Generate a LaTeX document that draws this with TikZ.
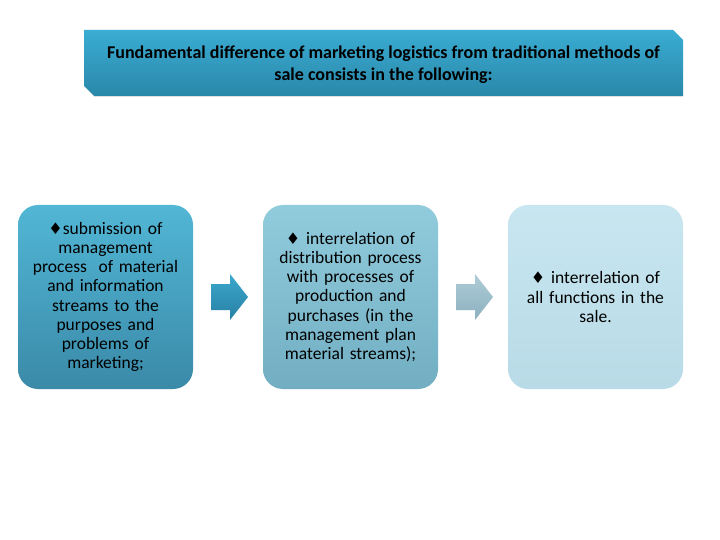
\documentclass[tikz,border=0pt]{standalone}
\usepackage{fontspec}
\setmainfont{Carlito}
\newfontfamily\symb{DejaVu Sans}
\definecolor{titelOben}{RGB}{58,172,210}
\definecolor{titelUnten}{RGB}{42,136,170}
\definecolor{einsOben}{RGB}{82,182,213}
\definecolor{einsUnten}{RGB}{58,138,168}
\definecolor{zweiOben}{RGB}{145,204,221}
\definecolor{zweiUnten}{RGB}{114,174,194}
\definecolor{dreiOben}{RGB}{200,230,240}
\definecolor{dreiUnten}{RGB}{184,219,231}
\definecolor{pfeilAOben}{RGB}{58,168,204}
\definecolor{pfeilAUnten}{RGB}{40,128,164}
\definecolor{pfeilBOben}{RGB}{174,204,215}
\definecolor{pfeilBUnten}{RGB}{140,176,192}
\newcommand{\raute}{{\symb\fontsize{16}{16}\selectfont ♦}}
\tikzset{
  kasten/.style={rounded corners=20pt, minimum width=175pt, minimum height=184pt,
    text width=170pt, align=center, inner sep=0pt,
    font=\fontsize{17.5}{19.2}\selectfont}
}
\begin{document}
\begin{tikzpicture}[x=1pt,y=-1pt]
    \useasboundingbox[fill=white] (0,0) rectangle (720,540);

    % Punkte Titel
    \coordinate (T1) at (84,30);
    \coordinate (T2) at (673,30);
    \coordinate (T3) at (683,40);
    \coordinate (T4) at (683,96);
    \coordinate (T5) at (94,96);
    \coordinate (T6) at (84,86);

    % Titel
    \draw[line width=1.5pt, black!12] (T5) -- (T4);
    \shade[top color=titelOben, bottom color=titelUnten] (T1) -- (T2) -- (T3) -- (T4) -- (T5) -- (T6) -- cycle;
    \node[font=\bfseries\fontsize{18}{22}\selectfont, align=center] (titel) at (383.5,65)
        {Fundamental difference of marketing logistics from traditional methods of\\ sale consists in the following:};

    % Kaesten
    \node[kasten, top color=einsOben, bottom color=einsUnten] (k1) at (105.5,297)
        {\raute submission of\\ management\\ process \ of material\\ and information\\ streams to the\\ purposes and\\ problems of\\ marketing;};
    \node[kasten, top color=zweiOben, bottom color=zweiUnten] (k2) at (350.5,297)
        {\raute\ interrelation of\\ distribution process\\ with processes of\\ production and\\ purchases (in the\\ management plan\\ material streams);};
    \node[kasten, top color=dreiOben, bottom color=dreiUnten] (k3) at (595.5,297)
        {\raute\ interrelation of\\ all functions in the\\ sale.};

    % Pfeile
    \foreach \x/\farbe in {211/pfeilA, 456/pfeilB}
    {
        \shade[top color=\farbe Oben, bottom color=\farbe Unten]
            (\x,284) -- (\x+19,284) -- (\x+19,274) -- (\x+37,297)
            -- (\x+19,320) -- (\x+19,310) -- (\x,310) -- cycle;
    }
\end{tikzpicture}
\end{document}
